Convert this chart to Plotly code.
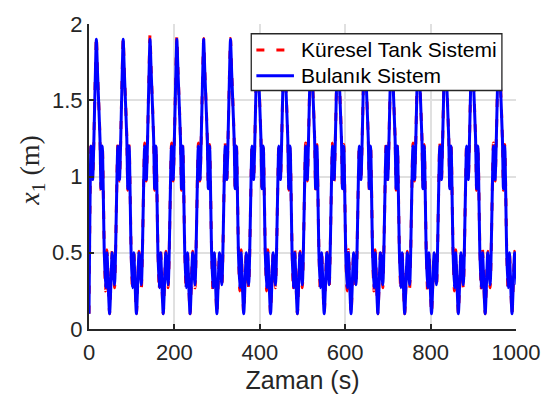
import plotly.graph_objects as go

# Cycle length of the periodic reference (s) and number of cycles over 0..1000 s
PERIOD = 62.83
N_CYCLES = 16

# Initial state
t0, x0 = 0.0, 0.10

# Turning points within one cycle: time offset (s) and liquid level x1 (m)
cycle_t = [4.7, 8.5, 14.5, 17.2, 20.0, 25.7, 28.1, 31.2, 35.8, 38.9, 42.0, 48.2, 54.4, 59.8]
fuzzy_x1 = [1.20, 0.98, 1.62, 1.90, 1.68, 1.25, 0.92, 1.20, 0.50, 0.27, 0.50, 0.10, 0.50, 0.29]
tank_x1 = [1.22, 0.97, 1.63, 1.92, 1.69, 1.26, 0.91, 1.21, 0.52, 0.25, 0.52, 0.10, 0.51, 0.27]

# Peak level of each model in every cycle
tank_peaks = [1.92, 1.905, 1.93, 1.92, 1.905, 1.905, 1.92, 1.905,
              1.905, 1.905, 1.905, 1.905, 1.905, 1.905, 1.905, 1.905]
fuzzy_peaks = [1.90] * N_CYCLES

series_names = ["Küresel Tank Sistemi", "Bulanık Sistem"]
series_colors = ["#ff0000", "#0000ff"]

PEAK_IDX = cycle_t.index(17.2)


def build(levels, peaks):
    ts, xs = [t0], [x0]
    for k in range(N_CYCLES):
        for j, (off, v) in enumerate(zip(cycle_t, levels)):
            ts.append(k * PERIOD + off)
            xs.append(peaks[k] if j == PEAK_IDX else v)
    return ts, xs


t_tank, y_tank = build(tank_x1, tank_peaks)
t_fuzzy, y_fuzzy = build(fuzzy_x1, fuzzy_peaks)

AX = "#262626"
GRID = "#e0e0e0"
DASH = "8px,12px"

fig = go.Figure()
fig.add_trace(go.Scatter(
    x=t_tank, y=y_tank, mode="lines", name=series_names[0], showlegend=False,
    line=dict(color=series_colors[0], width=3, dash=DASH, shape="spline", smoothing=0.6),
))
fig.add_trace(go.Scatter(
    x=t_fuzzy, y=y_fuzzy, mode="lines", name=series_names[1], showlegend=False,
    line=dict(color=series_colors[1], width=3, shape="spline", smoothing=0.6),
))

# Legend box drawn in paper coordinates (top-right corner of the axes)
leg_x0, leg_x1, leg_y0, leg_y1 = 0.380, 0.967, 0.782, 0.968
row_y = [0.915, 0.830]
sample_x = (0.392, 0.480)
text_x = 0.492

shapes = [dict(type="rect", xref="paper", yref="paper", layer="above",
               x0=leg_x0, x1=leg_x1, y0=leg_y0, y1=leg_y1,
               fillcolor="white", line=dict(color=AX, width=1.3))]
annotations = []
for name, color, ry, dash in zip(series_names, series_colors, row_y, [DASH, "solid"]):
    shapes.append(dict(type="line", xref="paper", yref="paper", layer="above",
                       x0=sample_x[0], x1=sample_x[1], y0=ry, y1=ry,
                       line=dict(color=color, width=3, dash=dash)))
    annotations.append(dict(xref="paper", yref="paper", x=text_x, y=ry,
                            xanchor="left", yanchor="middle", showarrow=False,
                            text=name, font=dict(size=21, color="#000000")))

# Vertical axis label, rotated, centred on the axes height
annotations.append(dict(
    xref="paper", yref="paper", x=-0.135, y=0.52,
    xanchor="center", yanchor="middle", showarrow=False, textangle=-90,
    text="<i>x</i><sub>1</sub> (m)",
    font=dict(family="Liberation Serif, DejaVu Serif, serif", size=28, color=AX),
))

fig.update_layout(
    width=552, height=405,
    margin=dict(l=89, r=34, t=13, b=76),
    plot_bgcolor="white", paper_bgcolor="white",
    font=dict(family="Liberation Sans, Arial, sans-serif", size=22, color=AX),
    showlegend=False,
    shapes=shapes,
    annotations=annotations,
)

fig.update_xaxes(
    range=[0, 1000], tickvals=[0, 200, 400, 600, 800, 1000],
    ticks="inside", ticklen=5, tickwidth=1.5, tickcolor=AX,
    ticklabelstandoff=3,
    showline=True, linecolor=AX, linewidth=2,
    showgrid=True, gridcolor=GRID, gridwidth=1.5, zeroline=False,
    title=dict(text="Zaman (s)", font=dict(size=25, color=AX), standoff=7),
)
fig.update_yaxes(
    range=[0, 2], tickvals=[0, 0.5, 1, 1.5, 2], ticktext=["0", "0.5", "1", "1.5", "2"],
    ticks="inside", ticklen=5, tickwidth=1.5, tickcolor=AX,
    showline=True, linecolor=AX, linewidth=2,
    showgrid=True, gridcolor=GRID, gridwidth=1.5, zeroline=False,
)

fig.write_html("out.html")
